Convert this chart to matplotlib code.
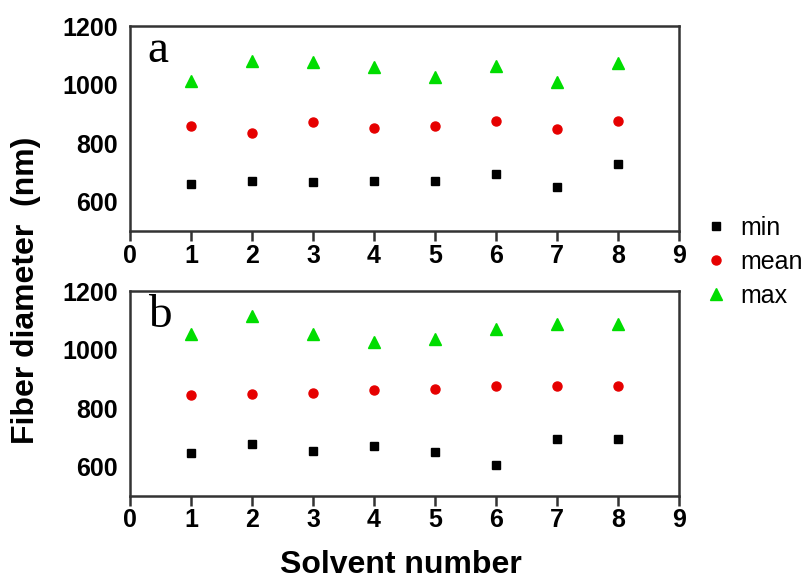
import matplotlib.pyplot as plt
import numpy as np

plt.rcParams["font.family"] = ["Liberation Sans", "DejaVu Sans"]

solvent = [1, 2, 3, 4, 5, 6, 7, 8]

# panel a
min_a = [660, 670, 669, 670, 670, 695, 650, 729]
mean_a = [859, 833, 872, 853, 859, 876, 847, 876]
max_a = [1011, 1079, 1078, 1060, 1025, 1065, 1008, 1074]

# panel b
min_b = [647, 678, 655, 670, 650, 605, 693, 693]
mean_b = [844, 850, 852, 861, 865, 874, 875, 877]
max_b = [1053, 1116, 1053, 1027, 1037, 1071, 1089, 1089]

panel_labels = ["a", "b"]

green = "#00dd00"
red = "#e60000"

fig = plt.figure(figsize=(8.09, 5.81), dpi=100)
ax_a = fig.add_axes([0.1607, 0.6024, 0.6786, 0.3528])
ax_b = fig.add_axes([0.1607, 0.1463, 0.6786, 0.3528])

panels = [(ax_a, min_a, mean_a, max_a), (ax_b, min_b, mean_b, max_b)]
handles = []
for i, (ax, mn, me, mx) in enumerate(panels):
    h1, = ax.plot(solvent, mn, "s", color="black", markersize=5.5, linestyle="none", label="min")
    h2, = ax.plot(solvent, me, "o", color=red, markersize=6.5, linestyle="none", label="mean")
    h3, = ax.plot(solvent, mx, "^", color=green, markersize=8, linestyle="none", label="max")
    if i == 0:
        handles = [h1, h2, h3]
    ax.set_xlim(0, 9)
    ax.set_ylim(500, 1200)
    ax.set_xticks(np.arange(0, 10))
    ax.set_yticks([600, 800, 1000, 1200])
    ax.tick_params(axis="x", direction="out", length=7, width=1.8, pad=2,
                   labelsize=18, color="#333333")
    ax.tick_params(axis="y", length=0, pad=9, labelsize=18)
    for lab in ax.get_xticklabels() + ax.get_yticklabels():
        lab.set_fontweight("bold")
    for sp in ax.spines.values():
        sp.set_linewidth(1.8)
        sp.set_color("#333333")
    ax.text(0.032, 0.985, panel_labels[i], transform=ax.transAxes, va="top", ha="left",
            fontsize=34, family="Liberation Serif")

fig.text(0.032, 0.5, "Fiber diameter  (nm)", rotation=90, ha="center", va="center",
         fontsize=23, fontweight="bold")
fig.text(0.495, 0.027, "Solvent number", ha="center", va="center",
         fontsize=23, fontweight="bold")

fig.legend(handles=handles, labels=["min", "mean", "max"], loc="upper left",
           bbox_to_anchor=(0.86, 0.65), frameon=False, fontsize=18,
           handlelength=0.6, handletextpad=0.7, labelspacing=0.4,
           borderpad=0, markerscale=1.0)

fig.savefig("out.png", dpi=100)
